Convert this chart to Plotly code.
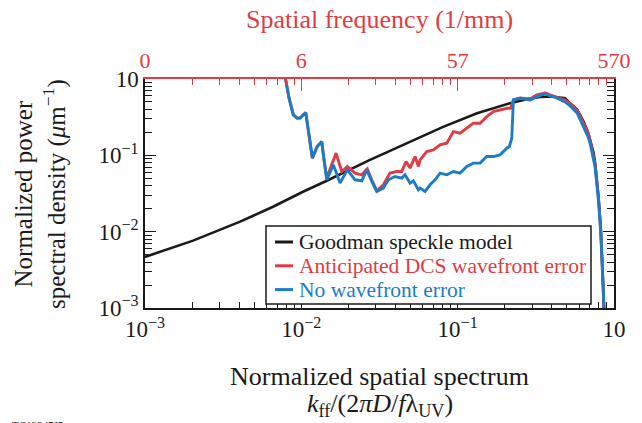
import plotly.graph_objects as go

# ---- data ----
goodman_x = [0.001, 0.00203, 0.00406, 0.00659, 0.01025, 0.01454, 0.0275, 0.0496, 0.0807,
             0.133, 0.216, 0.2905, 0.3365, 0.40, 0.4865, 0.5238, 0.5806, 0.6372, 0.683,
             0.7384, 0.7571, 0.7948, 0.8233, 0.848, 0.866]
goodman_y = [0.00467, 0.00763, 0.01352, 0.0212, 0.0333, 0.0464, 0.0873, 0.1515, 0.2357,
             0.356, 0.481, 0.555, 0.580, 0.590, 0.560, 0.480, 0.400, 0.280, 0.200,
             0.110, 0.080, 0.030, 0.011, 0.0026, 0.0008]

blue_x = [0.00764, 0.00795, 0.00834, 0.00889, 0.00939, 0.00981, 0.01067, 0.0112, 0.01176, 0.0126,
          0.01351, 0.01397, 0.01454, 0.01602, 0.01769, 0.0197, 0.02206, 0.02435, 0.02621, 0.02821,
          0.03037, 0.03346, 0.03603, 0.03977, 0.04388, 0.04607, 0.04961, 0.05208, 0.05607, 0.05748,
          0.06186, 0.06659, 0.07169, 0.07718, 0.08519, 0.09387, 0.1036, 0.1144, 0.1260, 0.1391,
          0.1536, 0.1692, 0.1867, 0.2062, 0.2142, 0.2219, 0.2272, 0.2507, 0.2905, 0.3207,
          0.3624, 0.3902, 0.4305, 0.4865, 0.5238, 0.5806, 0.6372, 0.683, 0.7034, 0.7384,
          0.7571, 0.7948, 0.8233, 0.848, 0.8645]
blue_y = [1.52, 0.970, 0.565, 0.338, 0.309, 0.306, 0.363, 0.185, 0.0919, 0.129,
          0.1515, 0.0873, 0.0478, 0.0751, 0.0433, 0.0646, 0.0478, 0.0464, 0.0646, 0.0454,
          0.0336, 0.0373, 0.0478, 0.0528, 0.0504, 0.0556, 0.0433, 0.0464, 0.0354, 0.0373,
          0.0336, 0.0411, 0.0478, 0.0585, 0.0556, 0.0614, 0.0585, 0.0714, 0.0791, 0.0791,
          0.0964, 0.0964, 0.1015, 0.1242, 0.1303, 0.168, 0.531, 0.560, 0.531, 0.587,
          0.637, 0.600, 0.565, 0.500, 0.444, 0.359, 0.238, 0.175, 0.144, 0.0956,
          0.0707, 0.0262, 0.0097, 0.00236, 0.0009]

red_x = [0.00764, 0.00795, 0.00834, 0.00889, 0.00939, 0.00981, 0.01067, 0.0112, 0.01176, 0.0126,
         0.01351, 0.01397, 0.01454, 0.01667, 0.01814, 0.0197, 0.02206, 0.02435, 0.0264, 0.02821,
         0.03037, 0.03346, 0.03694, 0.04078, 0.04388, 0.04677, 0.04961, 0.0534, 0.05607, 0.05748,
         0.06343, 0.06991, 0.07718, 0.08519, 0.09387, 0.1036, 0.1144, 0.1260, 0.1391, 0.1536,
         0.1692, 0.1867, 0.2062, 0.2182, 0.2272, 0.2507, 0.2905, 0.3207, 0.3624, 0.3902,
         0.4305, 0.4865, 0.5238, 0.5806, 0.6372, 0.683, 0.7034, 0.7384, 0.7571, 0.7948,
         0.8233, 0.848, 0.8645]
red_y = [1.52, 0.970, 0.565, 0.338, 0.306, 0.309, 0.363, 0.185, 0.0919, 0.129,
         0.1515, 0.0873, 0.0505, 0.1069, 0.0614, 0.0714, 0.0585, 0.0556, 0.0666, 0.0478,
         0.0344, 0.0411, 0.0585, 0.0614, 0.0614, 0.0830, 0.0680, 0.0964, 0.0714, 0.0873,
         0.1121, 0.118, 0.1372, 0.1444, 0.2048, 0.195, 0.2268, 0.2636, 0.2636, 0.3215,
         0.3737, 0.3935, 0.414, 0.414, 0.531, 0.565, 0.548, 0.618, 0.656, 0.618,
         0.582, 0.531, 0.471, 0.3935, 0.2636, 0.1968, 0.155, 0.1015, 0.0751, 0.0278,
         0.0100, 0.00236, 0.0009]

series_names = ["Goodman speckle model", "Anticipated DCS wavefront error", "No wavefront error"]

x_tickvals = [0.001, 0.01, 0.1, 1]
x_ticktext = ["10<sup>−3</sup>", "10<sup>−2</sup>", "10<sup>−1</sup>", "10"]
top_ticktext = ["0", "6", "57", "570"]
y_tickvals = [0.001, 0.01, 0.1, 1]
y_ticktext = ["10<sup>−3</sup>", "10<sup>−2</sup>", "10<sup>−1</sup>", "10"]

BLACK = "#1a1a1a"
RED = "#e23b43"
BLUE = "#1c7cc8"
colors = [BLACK, RED, BLUE]
FONT = "Liberation Serif"

minor_vals = [m * 10 ** e for e in (-3, -2, -1) for m in range(2, 10)]

fig = go.Figure()
for xs, ys, name, col, w in [(goodman_x, goodman_y, series_names[0], BLACK, 2.6),
                             (red_x, red_y, series_names[1], RED, 2.9),
                             (blue_x, blue_y, series_names[2], BLUE, 2.9)]:
    fig.add_trace(go.Scatter(x=xs, y=ys, mode="lines", line=dict(color=col, width=w),
                             name=name, showlegend=False))
fig.add_trace(go.Scatter(x=[], y=[], xaxis="x2", yaxis="y2", showlegend=False))

axis_common = dict(type="log", range=[-3, 0], ticks="inside", showgrid=False, zeroline=False,
                   showline=True, linewidth=1.5, tickwidth=1.3)

fig.update_layout(
    width=642, height=423,
    margin=dict(l=145, r=28, t=79, b=115),
    paper_bgcolor="white", plot_bgcolor="white",
    font=dict(family=FONT, size=22, color=BLACK),
    xaxis=dict(**axis_common, tickvals=x_tickvals, ticktext=x_ticktext, ticklen=9,
               linecolor=BLACK, tickcolor=BLACK,
               minor=dict(tickvals=minor_vals, ticks="inside", ticklen=6, tickcolor=BLACK, tickwidth=1.3),
               tickfont=dict(size=23)),
    xaxis2=dict(**axis_common, overlaying="x", side="top", anchor="y", tickvals=x_tickvals,
                ticktext=top_ticktext, ticklen=12, linecolor=RED, tickcolor=RED,
                minor=dict(tickvals=minor_vals, ticks="inside", ticklen=6, tickcolor=RED, tickwidth=1.3),
                tickfont=dict(size=22, color=RED)),
    yaxis=dict(**axis_common, tickvals=y_tickvals, ticktext=y_ticktext, ticklen=11,
               linecolor=BLACK, tickcolor=BLACK,
               minor=dict(tickvals=minor_vals, ticks="inside", ticklen=7, tickcolor=BLACK, tickwidth=1.3),
               tickfont=dict(size=23)),
    yaxis2=dict(**axis_common, overlaying="y", side="right", anchor="x", tickvals=y_tickvals,
                showticklabels=False, ticklen=11, linecolor=BLACK, tickcolor=BLACK,
                minor=dict(tickvals=minor_vals, ticks="inside", ticklen=7, tickcolor=BLACK, tickwidth=1.3)),
    showlegend=False,
)

# ---- legend drawn as a framed box (paper coordinates) ----
def px_x(p):
    return (p - 145) / 469

def px_y(p):
    return (308 - p) / 229

fig.add_shape(type="rect", xref="paper", yref="paper", x0=px_x(266), x1=px_x(591), y0=px_y(304), y1=px_y(226),
              line=dict(color=BLACK, width=1.5), fillcolor="white", layer="above")
for i, (name, col) in enumerate(zip(series_names, colors)):
    yc = px_y(242 + 23.8 * i)
    fig.add_shape(type="line", xref="paper", yref="paper", x0=px_x(275), x1=px_x(293), y0=yc, y1=yc,
                  line=dict(color=col, width=3), layer="above")
    fig.add_annotation(text=name, xref="paper", yref="paper", x=px_x(297), y=yc, xanchor="left",
                       yanchor="middle", showarrow=False, font=dict(family=FONT, size=21.5, color=col))

fig.add_annotation(text="Spatial frequency (1/mm)", xref="paper", yref="paper", x=0.5, y=px_y(19),
                   showarrow=False, font=dict(family=FONT, size=26, color=RED), yanchor="middle")
fig.add_annotation(text="Normalized spatial spectrum", xref="paper", yref="paper", x=0.5, y=px_y(376),
                   showarrow=False, font=dict(family=FONT, size=26), yanchor="middle")
fig.add_annotation(text="<i>k</i><sub>ff</sub>/(2<i>π</i><i>D</i>/<i>f</i>λ<sub>UV</sub>)", xref="paper", yref="paper",
                   x=0.5, y=px_y(405), showarrow=False, font=dict(family=FONT, size=26), yanchor="middle")
fig.add_annotation(text="Normalized power<br>spectral density (<i>μ</i>m<sup>−1</sup>)", xref="paper", yref="paper",
                   x=px_x(40), y=px_y(194), textangle=-90, showarrow=False,
                   font=dict(family=FONT, size=25), xanchor="center", yanchor="middle")
fig.add_annotation(text="TC12347JP", xref="paper", yref="paper", x=px_x(10), y=px_y(417),
                   showarrow=False, font=dict(family=FONT, size=11), xanchor="left", yanchor="top")

fig.write_html("out.html")
